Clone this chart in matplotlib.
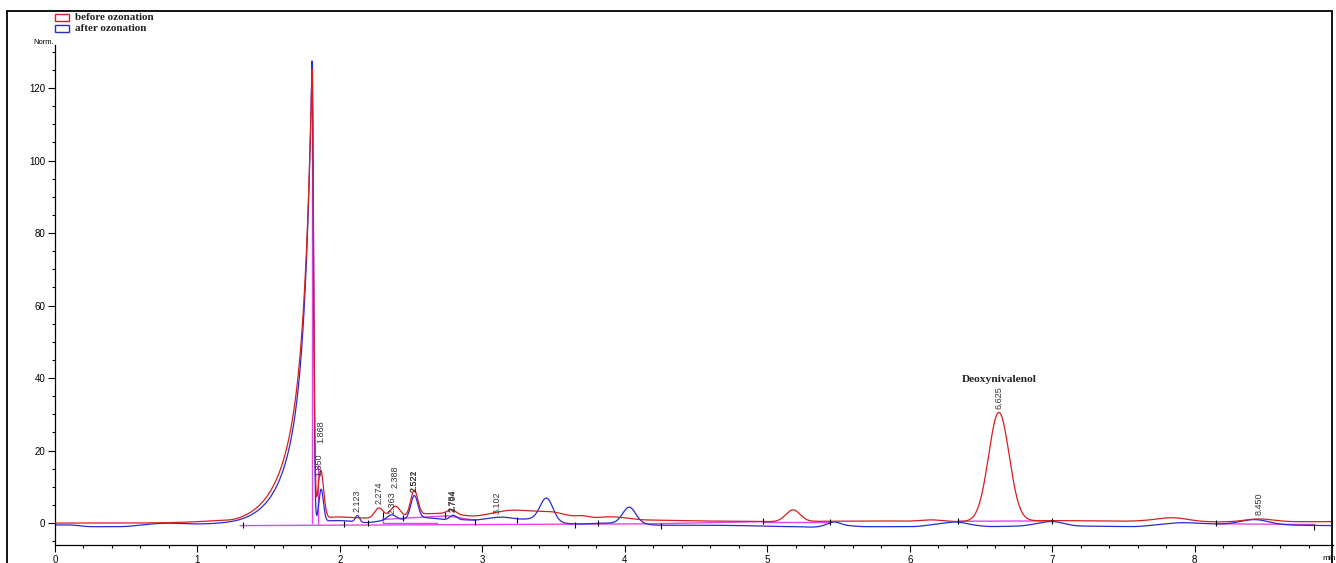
import numpy as np
import matplotlib
matplotlib.use("Agg")
import matplotlib.pyplot as plt
from matplotlib.patches import Rectangle
from matplotlib.ticker import MultipleLocator

# ---------------- data ----------------
# Main (solvent-front) peak: apex time and two fronting exponential components
main_rt = 1.804
main_h_before = [60.0, 64.5]
main_h_after = [66.0, 61.5]
main_tau_before = [0.045, 0.15]
main_tau_after = [0.042, 0.14]

# Remaining peaks: retention time (min), height (Norm.), sigma (min)
rt_before = [1.865, 2.274, 2.388, 2.521, 2.784, 5.18, 6.625, 7.85, 8.45]
h_before = [13.5, 2.8, 3.2, 7.0, 1.2, 3.2, 30.0, 0.9, 0.8]
w_before = [0.020, 0.030, 0.035, 0.025, 0.030, 0.050, 0.072, 0.100, 0.100]

rt_after = [1.868, 2.123, 2.363, 2.522, 2.794, 3.45, 4.03, 5.47, 8.42]
h_after = [9.0, 1.8, 1.4, 6.3, 1.3, 6.3, 4.4, 0.9, 1.4]
w_after = [0.016, 0.015, 0.030, 0.025, 0.025, 0.045, 0.045, 0.040, 0.100]

# Baseline drift (time, level)
base_t_before = [0.00, 0.60, 1.00, 1.15, 1.25, 1.45, 1.60, 1.80, 1.95, 2.05, 2.20,
                 2.45, 2.58, 2.75, 2.85, 2.95, 3.05, 3.15, 3.22, 3.30, 3.38, 3.50,
                 3.58, 3.63, 3.70, 3.78, 3.85, 3.95, 4.10, 4.50, 5.00, 5.80, 6.00,
                 6.15, 6.30, 7.00, 7.50, 7.70, 8.15, 8.97]
base_v_before = [0.0, 0.0, 0.1, 0.0, -0.7, -0.6, -0.3, 0.5, 1.8, 1.6, 1.3,
                 1.5, 2.6, 2.7, 2.2, 1.8, 2.6, 3.4, 3.7, 3.4, 3.3, 3.2,
                 2.4, 1.6, 2.5, 1.2, 1.8, 1.7, 0.9, 0.6, 0.4, 0.6, 0.5,
                 1.0, 0.4, 0.7, 0.5, 0.7, 0.3, 0.4]

base_t_after = [0.00, 0.15, 0.20, 0.50, 0.65, 0.80, 0.95, 1.20, 1.30, 1.45, 1.60,
                1.80, 1.95, 2.05, 2.18, 2.25, 2.30, 2.45, 2.60, 2.70, 2.75, 2.85,
                2.95, 3.05, 3.15, 3.25, 3.35, 3.55, 3.65, 3.88, 4.10, 4.20, 4.60,
                4.85, 5.00, 5.25, 5.33, 5.40, 5.55, 5.65, 6.05, 6.20, 6.33, 6.45,
                6.55, 6.80, 7.00, 7.15, 7.60, 7.90, 8.15, 8.70, 8.97]
base_v_after = [-0.5, -0.5, -1.0, -1.0, -0.3, 0.0, -0.4, -0.6, -0.7, -0.6, -0.4,
                0.0, 0.8, 0.6, 0.0, 0.3, 0.8, 1.0, 1.6, 1.2, 0.7, 1.0,
                0.7, 1.4, 1.8, 1.0, 1.2, 0.0, -0.3, 0.0, 0.0, -0.6, -0.6,
                -0.7, -0.9, -1.0, -1.3, -0.6, -0.6, -1.0, -1.0, -0.2, 0.5, -0.6,
                -1.0, -0.8, 0.7, -0.8, -1.0, 0.2, -0.3, -0.6, -0.7]

# Integration baselines (t0, v0, t1, v1)
integ_segments = [(1.30, -0.7, 4.20, -0.2), (1.804, 0.0, 1.804, 126.0),
                  (1.845, -0.3, 1.845, 16.0), (2.30, 1.0, 2.75, 2.0),
                  (2.30, 1.0, 2.30, 0.0), (2.30, 0.0, 2.68, 0.0),
                  (2.75, 2.0, 2.95, 0.8), (4.20, -0.2, 4.97, 0.4),
                  (4.97, 0.4, 5.44, 0.4), (6.34, 0.5, 7.00, 0.6),
                  (8.15, -0.2, 8.84, -0.4)]

# Integration event marks (time, level)
event_t = [1.32, 2.03, 2.20, 2.30, 2.44, 2.74, 2.95, 3.24, 3.65, 3.81, 4.25,
           4.97, 5.44, 6.34, 7.00, 8.15, 8.84]
event_v = [-0.5, -0.2, 0.0, 2.2, 1.4, 2.2, 0.3, 0.8, -0.5, 0.0, -0.7,
           0.5, 0.2, 0.6, 0.6, -0.1, -1.0]

# Peak labels (retention time, trace)
label_rt = ["1.850", "1.868", "2.123", "2.274", "2.363", "2.388", "2.521", "2.522",
            "2.784", "2.794", "3.102", "6.625", "8.450"]
label_trace = ["before", "before", "after", "before", "after", "before", "after", "after",
               "after", "after", "after", "before", "before"]

x_ticks = [0, 1, 2, 3, 4, 5, 6, 7, 8]
y_ticks = [0, 20, 40, 60, 80, 100, 120]

RED = "#d81e1e"
BLUE = "#2a2ad2"
MAGENTA = "#e645e6"
# vertical gap between a peak and its label
label_gap = {"1.850": -0.8, "1.868": 7.5, "2.363": 0.2, "2.388": 5.0}


# ---------------- signal construction ----------------
t = np.linspace(0.0, 8.97, 9001)


def smooth(y, n=40):
    k = np.exp(-0.5 * (np.arange(-3 * n, 3 * n + 1) / n) ** 2)
    k /= k.sum()
    ypad = np.pad(y, 3 * n, mode="edge")
    return np.convolve(ypad, k, mode="valid")


def trace(base_t, base_v, heights, taus, rts, hs, ws, tail):
    y = smooth(np.interp(t, base_t, base_v))
    d = main_rt - t
    for h, tau in zip(heights, taus):
        y += np.where(d >= 0, h * np.exp(-np.clip(d, 0, None) / tau),
                      h * np.exp(-0.5 * (d / tail) ** 2))
    for r, h, w in zip(rts, hs, ws):
        y += h * np.exp(-0.5 * ((t - r) / w) ** 2)
    return y


before = trace(base_t_before, base_v_before, main_h_before, main_tau_before,
               rt_before, h_before, w_before, 0.011)
after = trace(base_t_after, base_v_after, main_h_after, main_tau_after,
              rt_after, h_after, w_after, 0.010)

# ---------------- figure ----------------
W, H = 1336, 563
fig = plt.figure(figsize=(W / 100, H / 100), dpi=100)
ax = fig.add_axes([55 / W, 18 / H, 1278 / W, 500 / H])
ax.set_xlim(0, 8.97)
ax.set_ylim(-6.05, 131.9)

for s in ("top", "right"):
    ax.spines[s].set_visible(False)
for s in ("left", "bottom"):
    ax.spines[s].set_linewidth(0.9)

for x0, v0, x1, v1 in integ_segments:
    ax.plot([x0, x1], [v0, v1], color=MAGENTA, lw=1.0, zorder=1)

ax.plot(t, after, color=BLUE, lw=0.9, zorder=2)
ax.plot(t, before, color=RED, lw=0.9, zorder=3)

ax.plot(event_t, event_v, ls="none", marker="|", ms=5, mew=0.8, color="black", zorder=4)

traces = {"before": before, "after": after}
for lab, tr in zip(label_rt, label_trace):
    r = float(lab)
    sel = np.abs(t - r) < 0.008
    yv = traces[tr][sel].max() + label_gap.get(lab, 1.0)
    ax.text(r, yv, lab, rotation=90, ha="center", va="bottom", fontsize=6.5,
            family="Liberation Sans", color="#333333", zorder=5)

ax.text(6.625, 39.7, "Deoxynivalenol", ha="center", va="center", fontsize=8.2,
        family="Liberation Serif", fontweight="bold", color="#222222")

ax.set_xticks(x_ticks)
ax.set_yticks(y_ticks)
ax.xaxis.set_minor_locator(MultipleLocator(0.2))
ax.yaxis.set_minor_locator(MultipleLocator(5))
ax.tick_params(which="major", length=5, width=0.8, labelsize=7, pad=2)
ax.tick_params(which="minor", length=2.5, width=0.8)
for lbl in ax.get_xticklabels() + ax.get_yticklabels():
    lbl.set_family("Liberation Sans")

fig.text(44 / W, 1 - 42 / H, "Norm.", ha="center", va="center", fontsize=5.5,
         family="Liberation Sans")
fig.text(1329 / W, 1 - 558 / H, "min", ha="center", va="center", fontsize=6,
         family="Liberation Sans")

# legend boxes
fig.add_artist(Rectangle((55 / W, 1 - 21 / H), 14 / W, 7 / H, transform=fig.transFigure,
                         fill=False, edgecolor=RED, lw=1.0))
fig.add_artist(Rectangle((55 / W, 1 - 32 / H), 14 / W, 7 / H, transform=fig.transFigure,
                         fill=False, edgecolor=BLUE, lw=1.0))
fig.text(75 / W, 1 - 17 / H, "before ozonation", ha="left", va="center", fontsize=8,
         family="Liberation Serif", fontweight="bold", color="#222222")
fig.text(75 / W, 1 - 28.5 / H, "after ozonation", ha="left", va="center", fontsize=8,
         family="Liberation Serif", fontweight="bold", color="#222222")

# outer frame
fig.add_artist(Rectangle((7 / W, -0.05), 1325 / W, 1.05 - 11 / H, transform=fig.transFigure,
                         fill=False, edgecolor="black", lw=1.3))

fig.savefig("out.png", dpi=100)
